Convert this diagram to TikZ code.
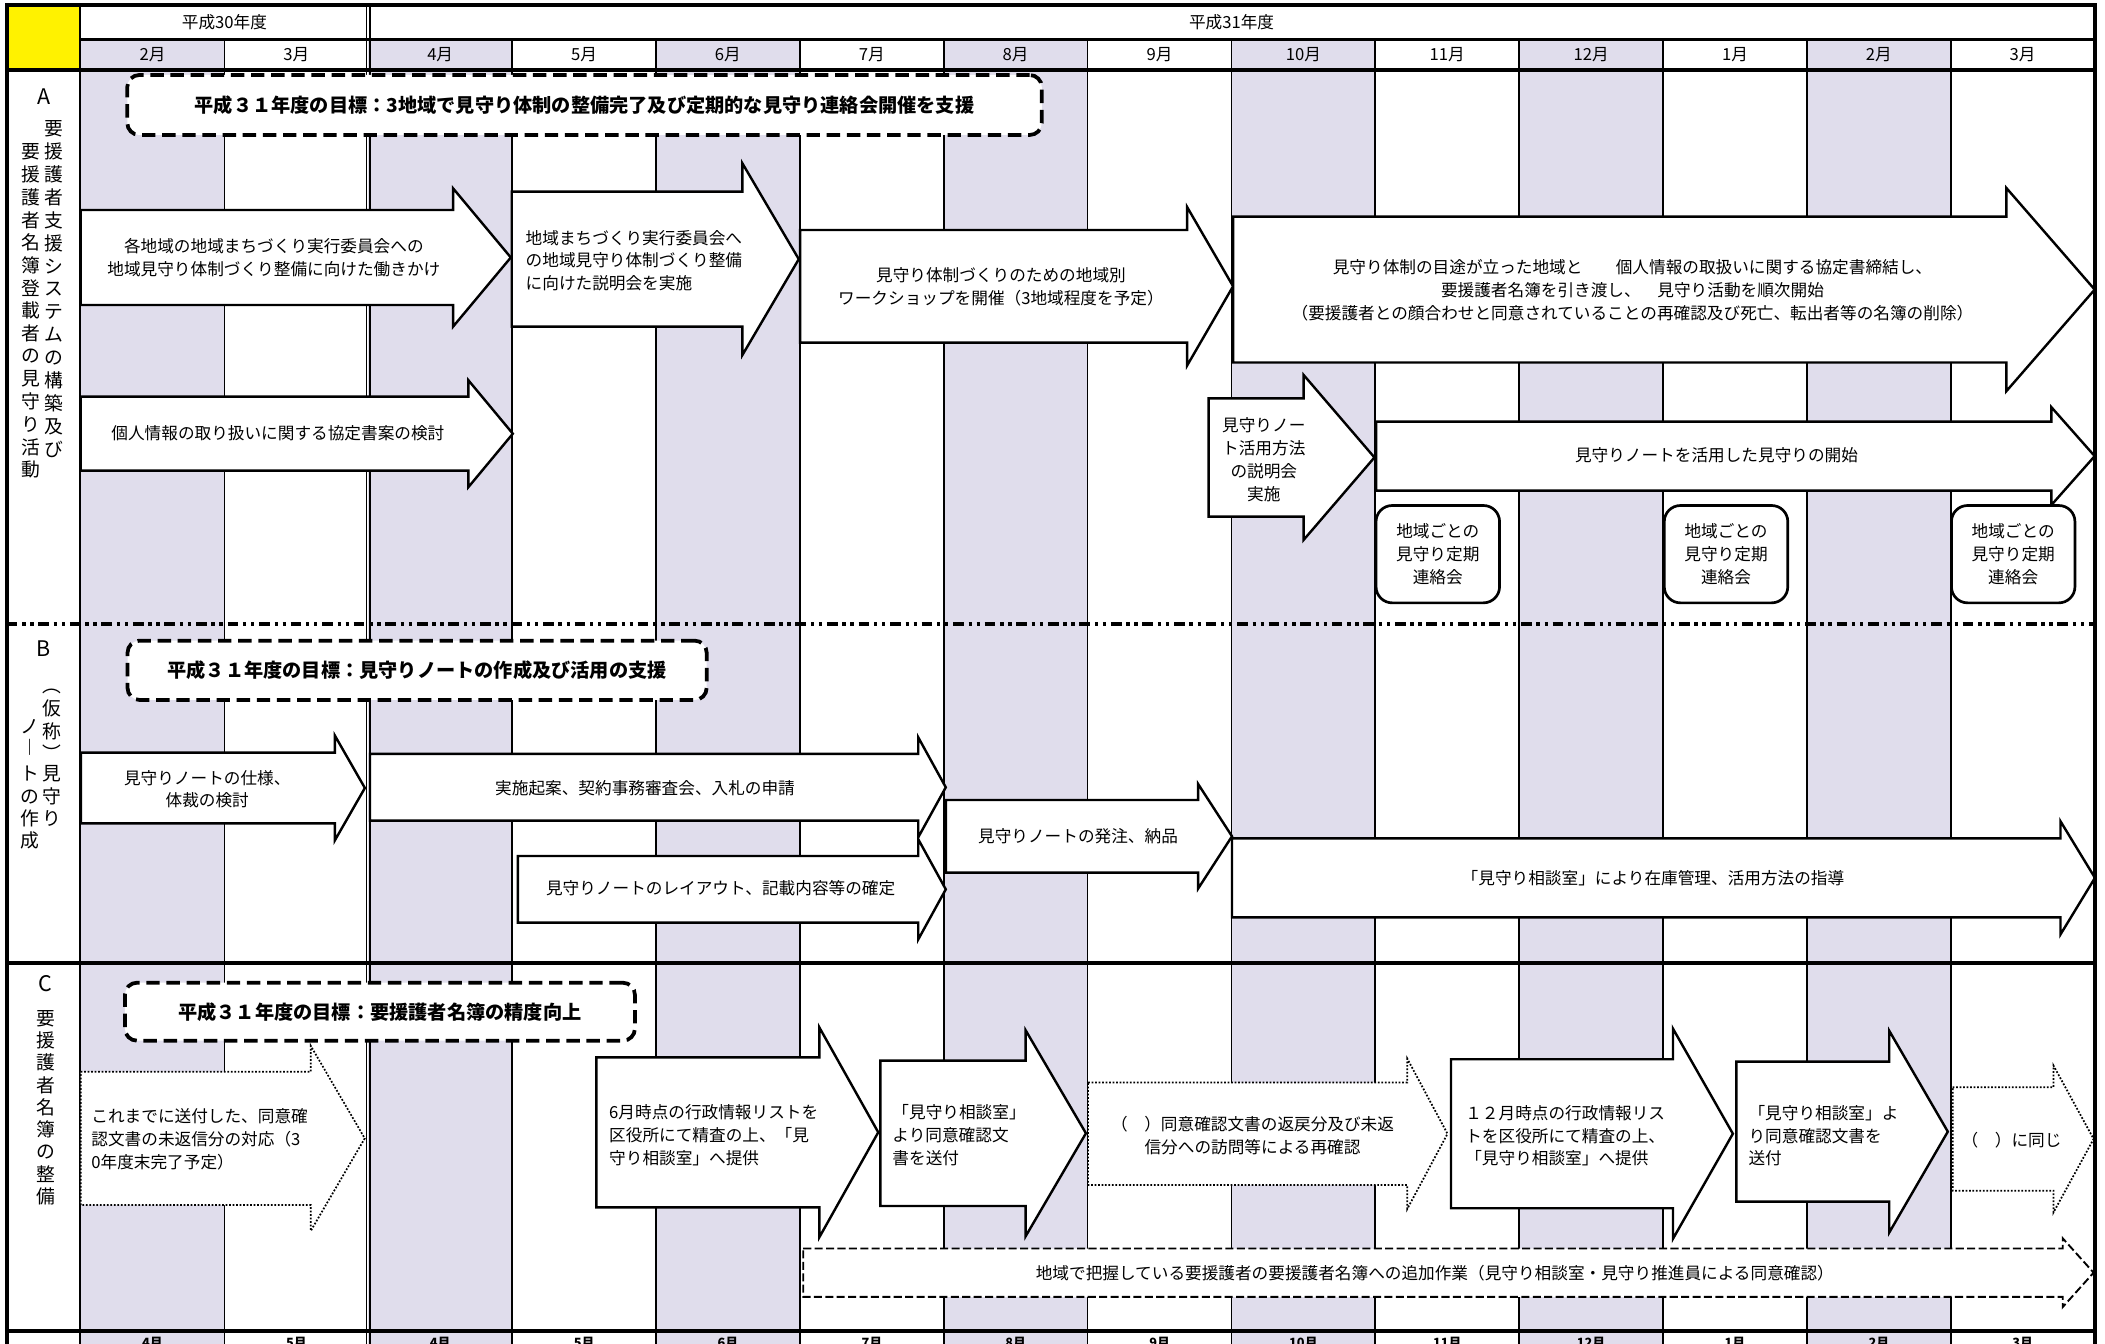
\documentclass[tikz,border=0pt]{standalone}
\usepackage{fontspec}
\setmainfont{Noto Sans CJK JP}
\definecolor{lav}{RGB}{224,221,236}

\begin{document}
\begin{tikzpicture}[x=1pt,y=-1pt,
 blk/.style={draw,fill=white,line width=1.8pt},
 dotblk/.style={draw,fill=white,line width=1.3pt,dash pattern=on 1.3pt off 1.3pt},
 dashblk/.style={draw,fill=white,line width=1.4pt,dash pattern=on 6pt off 2.5pt},
 goal/.style={draw,fill=white,line width=2.8pt,dash pattern=on 10pt off 5pt,rounded corners=9pt,inner sep=0pt,font=\fontsize{14.3}{16}\selectfont\bfseries},
 mtgbox/.style={draw,fill=white,line width=2pt,rounded corners=12pt,align=center,inner sep=0pt,font=\fontsize{12.4}{17}\selectfont},
 txt/.style={inner sep=0pt,font=\fontsize{12.4}{17}\selectfont},
 txtc/.style={txt,align=center},
 txtl/.style={txt,align=left,anchor=west},
 vtxt/.style={inner sep=0pt,font=\fontsize{14}{14}\selectfont},
 sec/.style={inner sep=0pt,font=\fontsize{16}{16}\selectfont}]
\fill[white] (0,0) rectangle (1568,1001);
\useasboundingbox (0,0) rectangle (1568,1001);
\foreach \i in {0,2,...,12}{\fill[lav] ({60+107.16*\i},29.5) rectangle ({60+107.16*(\i+1)},1001);}
\fill[yellow] (5,4) rectangle (59.7,52.2);
\foreach \i in {1,3,4,...,13}{\draw[line width=1.2pt] ({60+107.16*\i},29.5) -- ({60+107.16*\i},1001);}
\draw[line width=0.9pt] (273,4) -- (273,1001) (275.6,4) -- (275.6,1001);
\draw[line width=1.6pt] (59.7,4) -- (59.7,1001);
\draw[line width=2pt] (59.7,29.5) -- (1560.5,29.5);
\draw[line width=2.5pt] (5,52.2) -- (1560.5,52.2);
\draw[line width=3pt] (5,717) -- (1560.5,717);
\draw[line width=3pt] (5,991.5) -- (1560.5,991.5);
\draw[line width=2.5pt,dash pattern=on 8pt off 3.5pt on 2.5pt off 3.5pt on 2.5pt off 3.5pt] (5,464.8) -- (1560.5,464.8);
\node[txt] (fy30) at (167.2,16.8) {平成30年度};
\node[txt] (fy31) at (917.4,16.8) {平成31年度};
\foreach \m [count=\i from 0] in {2月,3月,4月,5月,6月,7月,8月,9月,10月,11月,12月,1月,2月,3月}{\node[txt] (mon\i) at ({113.58+107.16*\i},40.7) {\m};}
\foreach \m [count=\i from 0] in {4月,5月,4月,5月,6月,7月,8月,9月,10月,11月,12月,1月,2月,3月}{\node[inner sep=0pt,anchor=base,font=\fontsize{9.5}{10}\selectfont\bfseries] (bot\i) at ({113.58+107.16*\i},1003.5) {\m};}
\node[goal,minimum width=681.2,minimum height=44.7] (goalA) at (435.4,78.2) {平成３１年度の目標：3地域で見守り体制の整備完了及び定期的な見守り連絡会開催を支援};
\node[goal,minimum width=431.4,minimum height=44.2] (goalB) at (310.7,499.3) {平成３１年度の目標：見守りノートの作成及び活用の支援};
\node[goal,minimum width=379.9,minimum height=43.2] (goalC) at (283,753.6) {平成３１年度の目標：要援護者名簿の精度向上};
\foreach \xl/\yt/\yb/\xh/\hh/\xt/\st in {60/156.4/227.2/337.5/51.5/380.5/blk,60/295.5/350.6/348.9/39.8/382/blk,
 381.2/142.8/243.3/553/71.4/595/blk,596/171.3/255.2/884.3/59/918.5/blk,918.5/161.4/270/1494.5/75.7/1560.3/blk,
 900.3/296.7/384.8/971/61.5/1023.8/blk,1025/314/365.5/1528/36.5/1560.3/blk,
 60.3/560.6/613.3/249.4/39.1/271.8/blk,275.6/561.6/611.3/684/37.2/704.5/blk,385.8/637.6/687.3/684/37.3/704.5/blk,
 704.6/595.9/650/892.5/38.9/917.7/blk,917.7/624.5/683.3/1534.8/42.2/1560.5/blk,
 60.1/798.3/897.6/231.5/68.9/271.7/dotblk,444.2/787.6/899.3/610.3/78.2/654.2/blk,655.8/790/898.3/764/76.7/808.9/blk,
 810.5/806.4/882.7/1048.3/55.9/1078.2/dotblk,1080.8/789/900/1246.2/78.2/1290.8/blk,1293.4/790.8/895.1/1407.3/75.1/1450.9/blk,
 1454.5/809.9/886.9/1529.6/54.7/1559.5/dotblk,598.3/930/966/1536.5/25.6/1559.5/dashblk}
 {\path[\st] (\xl,\yt) -- (\xh,\yt) -- (\xh,{(\yt+\yb)/2-\hh}) -- (\xt,{(\yt+\yb)/2}) -- (\xh,{(\yt+\yb)/2+\hh}) -- (\xh,\yb) -- (\xl,\yb) -- cycle;}
\foreach \x/\n in {1071/1,1285.7/2,1499.6/3}{\node[mtgbox,minimum width=92,minimum height=72.5] (mtg\n) at (\x,412.8) {地域ごとの\\見守り定期\\連絡会};}
\node[txtc] (t1) at (204,192) {各地域の地域まちづくり実行委員会への\\地域見守り体制づくり整備に向けた働きかけ};
\node[txtc] (t2) at (207,322.8) {個人情報の取り扱いに関する協定書案の検討};
\node[txtl] (t3) at (391.4,194.2) {地域まちづくり実行委員会へ\\の地域見守り体制づくり整備\\に向けた説明会を実施};
\node[txtc] (t4) at (745.6,213.4) {見守り体制づくりのための地域別\\ワークショップを開催（3地域程度を予定）};
\node[txtc] (t5) at (1216,216) {見守り体制の目途が立った地域と　　個人情報の取扱いに関する協定書締結し、\\要援護者名簿を引き渡し、　見守り活動を順次開始\\（要援護者との顔合わせと同意されていることの再確認及び死亡、転出者等の名簿の削除）};
\node[txtc] (t6) at (941.4,342.4) {見守りノー\\ト活用方法\\の説明会\\実施};
\node[txtc] (t7) at (1278.6,339) {見守りノートを活用した見守りの開始};
\node[txtc] (t8) at (154.4,587.9) {見守りノートの仕様、\\体裁の検討};
\node[txtc] (t9) at (480.5,587.5) {実施起案、契約事務審査会、入札の申請};
\node[txtc] (t10) at (536.8,661.7) {見守りノートのレイアウト、記載内容等の確定};
\node[txtc] (t11) at (803,623) {見守りノートの発注、納品};
\node[txtc] (t12) at (1231.3,654.5) {「見守り相談室」により在庫管理、活用方法の指導};
\node[txtl] (t13) at (67.9,848.8) {これまでに送付した、同意確\\認文書の未返信分の対応（3\\0年度末完了予定）};
\node[txtl] (t14) at (453.6,845.4) {6月時点の行政情報リストを\\区役所にて精査の上、「見\\守り相談室」へ提供};
\node[txtl] (t15) at (664.6,845.4) {「見守り相談室」\\より同意確認文\\書を送付};
\node[txtc] (t16) at (933,846) {（　）同意確認文書の返戻分及び未返\\信分への訪問等による再確認};
\node[txtl] (t17) at (1091.3,846) {１２月時点の行政情報リス\\トを区役所にて精査の上、\\「見守り相談室」へ提供};
\node[txtl] (t18) at (1302.3,846) {「見守り相談室」よ\\り同意確認文書を\\送付};
\node[txtl] (t19) at (1461,849) {（　）に同じ};
\node[txtc] (t20) at (1068.8,948) {地域で把握している要援護者の要援護者名簿への追加作業（見守り相談室・見守り推進員による同意確認）};
\node[sec] (secA) at (33,72) {A};
\node[sec] (secB) at (32.3,483) {B};
\node[sec] (secC) at (34,732.5) {C};
\foreach \c [count=\i from 0] in {要,援,護,者,支,援,シ,ス,テ,ム,の,構,築,及,び}{\node[vtxt] (var\i) at (40.5,{96+17.05*\i}) {\c};}
\foreach \c [count=\i from 0] in {要,援,護,者,名,簿,登,載,者,の,見,守,り,活,動}{\node[vtxt] (val\i) at (23,{113+16.93*\i}) {\c};}
\foreach \c/\y [count=\i] in {︵/515,仮/527.6,称/545,︶/561,見/576,守/593.4,り/609.5}{\node[vtxt] (vbr\i) at (38.5,\y) {\c};}
\foreach \c/\y [count=\i] in {ノ/541,︱/557,ト/576,の/593.4,作/609.5,成/625.7}{\node[vtxt] (vbl\i) at (22.3,\y) {\c};}
\foreach \c [count=\i from 0] in {要,援,護,者,名,簿,の,整,備}{\node[vtxt] (vc\i) at (34,{758.5+16.6*\i}) {\c};}
\draw[line width=3pt] (5,1001) -- (5,4) -- (1560.5,4) -- (1560.5,1001);
\end{tikzpicture}
\end{document}
